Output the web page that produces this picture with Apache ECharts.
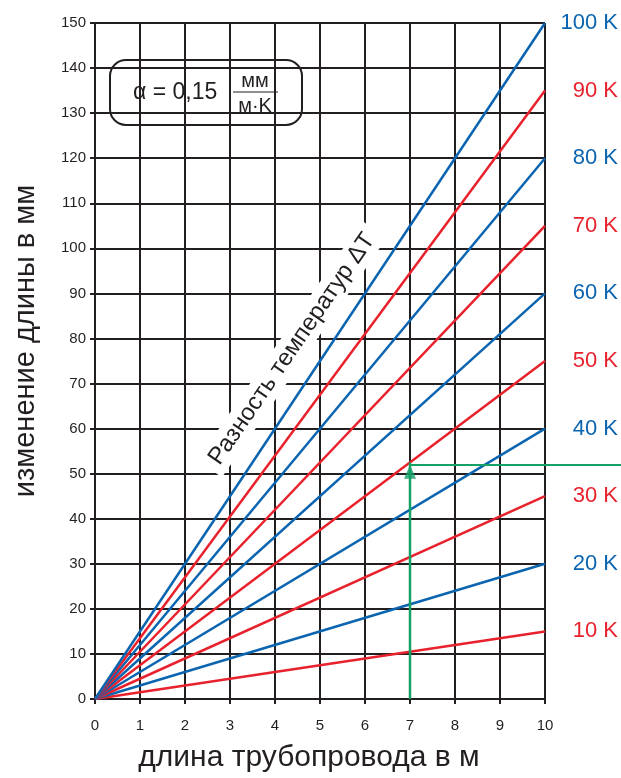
<!DOCTYPE html>
<html>
<head>
<meta charset="utf-8">
<style>
  html, body { margin: 0; padding: 0; background: #fff; }
  #chart { width: 621px; height: 778px; }
</style>
<script src="https://cdn.jsdelivr.net/npm/echarts@6/dist/echarts.min.js"></script>
</head>
<body>
<div id="chart"></div>
<script>
// длина трубопровода (м), начало и конец каждой прямой
const lengths = [0, 10]
// разность температур ΔT, K
const deltaT = [10, 20, 30, 40, 50, 60, 70, 80, 90, 100]
// изменение длины (мм) на 10 м для каждой ΔT
const endValues = [15, 30, 45, 60, 75, 90, 105, 120, 135, 150]
// зелёный пример: 7 м, 50 K
const exampleX = 7
const exampleY = 52.5
const arrowHeadY = 50.4
// зелёная линия уходит за правый край сетки (до края картинки)
const exampleRightX = 11.69

const blue = '#0a64b0'
const red = '#e8222d'
const green = '#15a066'
const ink = '#231f20'
const font = '"Liberation Sans", Arial, sans-serif'

const myChart = echarts.init(document.getElementById('chart'))

const lineSeries = deltaT.map((t, i) => {
  const color = i % 2 === 0 ? red : blue
  return {
    name: t + ' K',
    type: 'line',
    symbol: 'none',
    data: lengths.map((x, j) => [x, j === 0 ? 0 : endValues[i]]),
    lineStyle: { color: color, width: 2.5 },
    z: 3,
    endLabel: {
      show: true,
      formatter: t + ' K',
      color: color,
      fontSize: 22,
      fontFamily: font,
      align: 'right',
      distance: 73
    }
  }
})

const option = {
  animation: false,
  grid: [
    { left: 95, right: 76, top: 23, bottom: 75 },
    { left: 95, right: 0, top: 23, bottom: 75 }
  ],
  xAxis: [{
    type: 'value',
    min: 0,
    max: 10,
    interval: 1,
    name: 'длина трубопровода в м',
    nameLocation: 'middle',
    nameGap: 44,
    nameTextStyle: { fontSize: 30, color: ink, fontFamily: font, padding: [0, 22, 0, 0] },
    axisLine: { lineStyle: { color: ink, width: 2 } },
    axisTick: { show: true, length: 5, lineStyle: { color: ink, width: 2 } },
    axisLabel: { color: ink, fontSize: 15, margin: 19, fontFamily: font },
    splitLine: { show: true, lineStyle: { color: ink, width: 2 } }
  }, {
    gridIndex: 1,
    type: 'value',
    min: 0,
    max: exampleRightX,
    show: false
  }],
  yAxis: [{
    type: 'value',
    min: 0,
    max: 150,
    interval: 10,
    name: 'изменение длины в мм',
    nameLocation: 'middle',
    nameRotate: 90,
    nameGap: 55,
    nameTextStyle: { fontSize: 29, color: ink, fontFamily: font, padding: [0, 0, 0, 40] },
    axisLine: { show: true, lineStyle: { color: ink, width: 2 } },
    axisTick: { show: true, length: 5, lineStyle: { color: ink, width: 2 } },
    axisLabel: { color: ink, fontSize: 15, margin: 9, fontFamily: font },
    splitLine: { show: true, lineStyle: { color: ink, width: 2 } }
  }, {
    gridIndex: 1,
    type: 'value',
    min: 0,
    max: 150,
    show: false
  }],
  series: [
    ...lineSeries,
    {
      type: 'line',
      symbol: 'none',
      data: [[exampleX, 0], [exampleX, exampleY]],
      lineStyle: { color: green, width: 2.5 },
      z: 4
    },
    {
      type: 'line',
      xAxisIndex: 1,
      yAxisIndex: 1,
      symbol: 'none',
      data: [[exampleX, exampleY], [exampleRightX, exampleY]],
      lineStyle: { color: green, width: 2 },
      z: 4
    },
    {
      type: 'scatter',
      symbol: 'triangle',
      symbolSize: [12, 14],
      data: [[exampleX, arrowHeadY]],
      itemStyle: { color: green },
      z: 5
    }
  ],
  graphic: [
    {
      type: 'text',
      z: 1,
      x: 292,
      y: 349,
      rotation: 55.5 * Math.PI / 180,
      style: {
        text: 'Разность температур ΔT',
        font: '24px ' + font,
        fill: ink,
        align: 'center',
        verticalAlign: 'middle',
        backgroundColor: '#fff',
        padding: [3, 8]
      }
    },
    {
      type: 'group',
      z: 10,
      children: [
        {
          type: 'rect',
          shape: { x: 110, y: 60, width: 192, height: 65, r: 16 },
          style: { fill: '#fff', stroke: ink, lineWidth: 2 }
        },
        {
          type: 'text',
          x: 133,
          y: 93,
          style: { text: 'α = 0,15', font: '23px ' + font, fill: ink, verticalAlign: 'middle' }
        },
        {
          type: 'text',
          x: 255,
          y: 81,
          style: { text: 'мм', font: '20px ' + font, fill: ink, align: 'center', verticalAlign: 'middle' }
        },
        {
          type: 'line',
          shape: { x1: 233, y1: 92, x2: 278, y2: 92 },
          style: { stroke: ink, lineWidth: 1.2 }
        },
        {
          type: 'text',
          x: 255,
          y: 106,
          style: { text: 'м·K', font: '20px ' + font, fill: ink, align: 'center', verticalAlign: 'middle' }
        }
      ]
    }
  ]
}

myChart.setOption(option)
</script>
</body>
</html>
